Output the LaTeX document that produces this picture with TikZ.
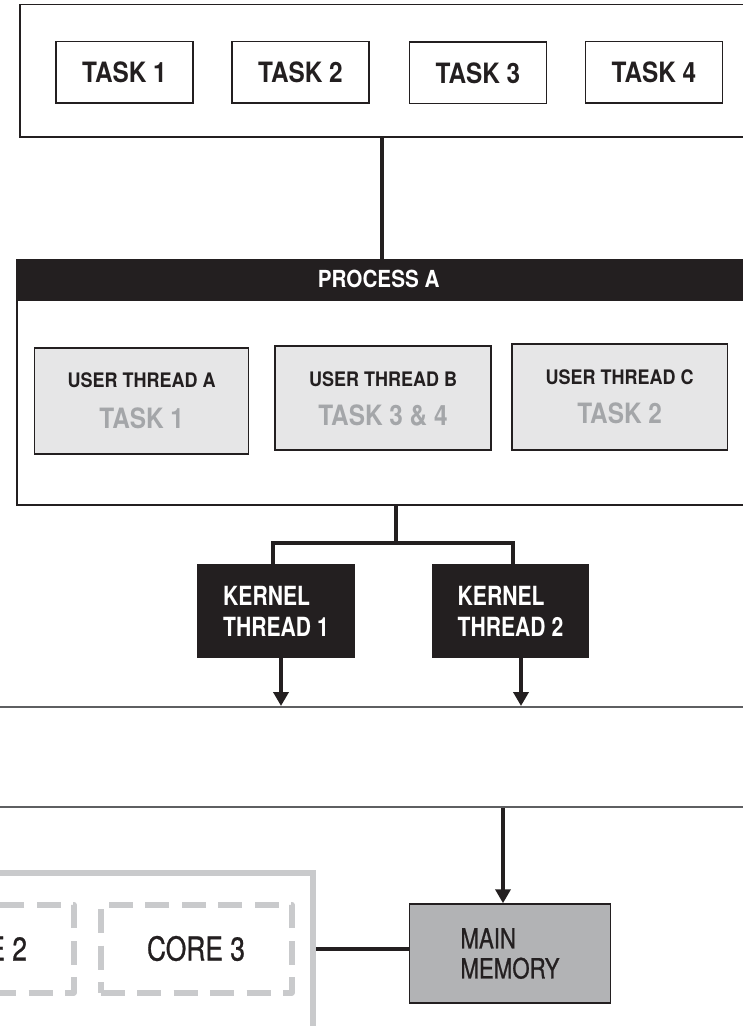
\documentclass[tikz,border=0pt]{standalone}
\usepackage{fontspec}
\setmainfont{TeX Gyre Heros}[FakeStretch=0.80]
\newfontfamily\taskfamily{TeX Gyre Heros}[FakeStretch=0.87]
\newfontfamily\threadfamily{TeX Gyre Heros}[FakeStretch=0.90]
\newfontfamily\headfamily{TeX Gyre Heros}[FakeStretch=0.88]
\newfontfamily\mediumfamily{TeX Gyre Heros}[FakeStretch=0.80, FakeBold=0.8]
\usetikzlibrary{arrows.meta}

\definecolor{ink}{HTML}{231F20}
\definecolor{threadfill}{HTML}{E6E6E7}
\definecolor{tasktext}{HTML}{A4A6A9}
\definecolor{memfill}{HTML}{B2B3B5}
\definecolor{cpugray}{HTML}{C9CACC}
\definecolor{bandline}{HTML}{5E5F61}

\tikzset{
  frame/.style={draw=ink, line width=1.5pt, rectangle, inner sep=0pt},
  taskbox/.style={frame, fill=white, minimum width=137pt, minimum height=61.5pt,
    text=ink, font=\taskfamily\bfseries\fontsize{28}{30}\selectfont},
  threadbox/.style={frame, fill=threadfill},
  threadtitle/.style={anchor=base, inner sep=0pt, text=ink,
    font=\threadfamily\bfseries\fontsize{20}{22}\selectfont},
  threadtask/.style={anchor=base, inner sep=0pt, text=tasktext,
    font=\taskfamily\bfseries\fontsize{28}{30}\selectfont},
  kernelbox/.style={rectangle, fill=ink, inner sep=0pt, minimum width=157pt,
    minimum height=94pt, text=white, align=left,
    font=\bfseries\fontsize{26.4}{31}\selectfont},
  corebox/.style={rectangle, draw=cpugray, line width=6pt, dash pattern=on 24pt off 12.5pt,
    line join=round, inner sep=0pt, minimum width=191pt, minimum height=88pt,
    text=ink, font=\mediumfamily\fontsize{33}{36}\selectfont},
  link/.style={draw=ink, line width=4pt},
  arrowlink/.style={link, -{Triangle[width=15pt,length=14pt]}},
}

\begin{document}
\begin{tikzpicture}[x=1pt, y=-1pt]
\useasboundingbox (0,0) rectangle (743,1026);
\clip (0,0) rectangle (743,1026);
\fill[white] (0,0) rectangle (743,1026);

% task list
\node[frame, fill=white, minimum width=760pt, minimum height=132.5pt] (tasklist) at (400,70.75) {};
\node[taskbox] (task1) at (124.5,72) {TASK 1};
\node[taskbox] (task2) at (300.5,72) {TASK 2};
\node[taskbox] (task3) at (478,72.8) {TASK 3};
\node[taskbox] (task4) at (654,72) {TASK 4};

% process A with its user threads
\node[frame, fill=white, minimum width=763pt, minimum height=245.5pt] (proc) at (398.5,382.25) {};
\node[rectangle, fill=ink, inner sep=0pt, minimum width=763pt, minimum height=41pt] (prochead) at (398.5,280) {};
\node[text=white, inner sep=0pt, font=\headfamily\bfseries\fontsize{23.5}{26}\selectfont] (proctitle) at (378.7,279) {PROCESS A};

\node[threadbox, minimum width=214pt, minimum height=106.3pt] (uta) at (141.7,400.9) {};
\node[threadtitle] (uta-title) at (141.7,387.5) {USER THREAD A};
\node[threadtask] (uta-task) at (141.7,428) {TASK 1};

\node[threadbox, minimum width=216pt, minimum height=104pt] (utb) at (383,398) {};
\node[threadtitle] (utb-title) at (383,386) {USER THREAD B};
\node[threadtask] (utb-task) at (383,425.7) {TASK 3 \& 4};

\node[threadbox, minimum width=215.7pt, minimum height=106pt] (utc) at (619.6,397) {};
\node[threadtitle] (utc-title) at (619.6,384) {USER THREAD C};
\node[threadtask] (utc-task) at (619.6,423.3) {TASK 2};

% kernel threads
\node[kernelbox, minimum width=158pt] (kt1) at (276,611) {KERNEL\\THREAD 1};
\node[kernelbox] (kt2) at (510.5,611) {KERNEL\\THREAD 2};

% operating system band
\node[rectangle, draw=bandline, line width=2pt, inner sep=0pt, minimum width=783pt, minimum height=100pt] (os) at (371.5,757) {};

% processor with its cores, and main memory
\node[rectangle, draw=cpugray, line width=6pt, inner sep=0pt, minimum width=713pt, minimum height=227pt] (cpu) at (-43.5,986.5) {};
\node[corebox] (core2) at (-22,948.5) {CORE 2};
\node[corebox] (core3) at (196,948.5) {CORE 3};
\node[frame, fill=memfill, minimum width=201pt, minimum height=99pt, align=left,
  text=ink, font=\mediumfamily\fontsize{27.8}{30}\selectfont] (mem) at (510,953.5) {MAIN\\MEMORY};

% connectors
\coordinate (down1) at (382,0);
\coordinate (split) at (396,543);
\coordinate (k1in) at (273,0);
\coordinate (k2in) at (513,0);
\coordinate (k1out) at (281,0);
\coordinate (k2out) at (521,0);
\coordinate (memin) at (503,0);
\coordinate (bus) at (0,949);

\draw[link] (tasklist.south -| down1) -- (prochead.north -| down1);
\draw[link] (proc.south -| split) -- (split);
\draw[link] (kt1.north -| k1in) |- (split) -| (kt2.north -| k2in);
\draw[arrowlink] (kt1.south -| k1out) -- (os.north -| k1out);
\draw[arrowlink] (kt2.south -| k2out) -- (os.north -| k2out);
\draw[arrowlink] (os.south -| memin) -- (mem.north -| memin);
\draw[line width=4.5pt, draw=ink] (cpu.east |- bus) -- (mem.west |- bus);
\end{tikzpicture}
\end{document}
